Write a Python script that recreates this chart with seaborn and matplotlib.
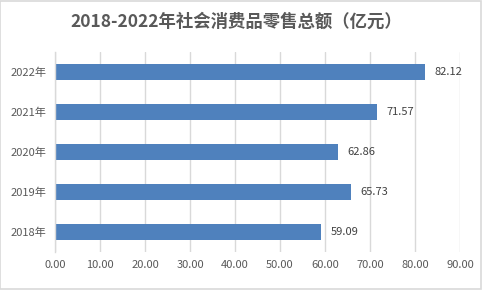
import matplotlib
matplotlib.use("Agg")
import matplotlib.pyplot as plt
import seaborn as sns
import pandas as pd

years = ["2022年", "2021年", "2020年", "2019年", "2018年"]
values = [82.12, 71.57, 62.86, 65.73, 59.09]
xticks = [0, 10, 20, 30, 40, 50, 60, 70, 80, 90]
title = "2018-2022年社会消费品零售总额（亿元）"

sns.set_theme(style="white")
plt.rcParams['font.family'] = ['Noto Sans CJK SC', 'DejaVu Sans']

df = pd.DataFrame({"year": years, "value": values})

fig = plt.figure(figsize=(4.82, 2.90), dpi=100)
fig.patches.append(plt.Rectangle((0.001, 0.002), 0.997, 0.995, transform=fig.transFigure,
                                 fill=False, edgecolor="#D9D9D9", linewidth=1.2))
ax = fig.add_axes([55/482, 38/290, 405/482, 200/290])

sns.barplot(data=df, x="value", y="year", orient="h", color="#4F81BD",
            width=0.38, saturation=1, linewidth=0, ax=ax)

ax.set_xlim(0, 90)
ax.set_ylim(4.5, -0.5)
ax.set_xticks(xticks)
ax.set_xticklabels([f"{v:.2f}" for v in xticks])
ax.grid(axis="x", color="#D9D9D9", linewidth=1)
ax.set_axisbelow(True)
for s in ["top", "right", "bottom"]:
    ax.spines[s].set_visible(False)
ax.spines["left"].set_color("#D9D9D9")
ax.spines["left"].set_linewidth(1)
ax.tick_params(axis="both", length=0, labelsize=8, labelcolor="#595959", pad=6)
ax.set_xlabel("")
ax.set_ylabel("")

for i, v in enumerate(values):
    ax.annotate(f"{v:.2f}", xy=(v, i), xytext=(7, 0), textcoords="offset points",
                va="center", ha="left", fontsize=8, color="#404040")

fig.text(0.49, 1 - 22/290, title, ha="center", va="center", fontsize=12.5,
         fontweight="bold", color="#595959")

fig.savefig("out.png", dpi=100)
